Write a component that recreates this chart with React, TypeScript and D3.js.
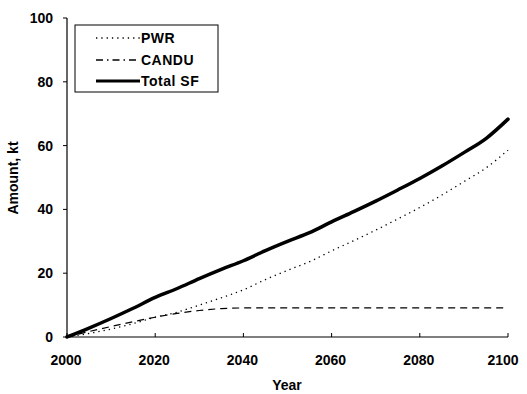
import React, { useRef, useEffect } from 'react';
import * as d3 from 'd3';

const years = [2000, 2005, 2010, 2015, 2020, 2025, 2030, 2035, 2040, 2045, 2050, 2055, 2060, 2065, 2070, 2075, 2080, 2085, 2090, 2095, 2100];
const pwr = [0, 1.1, 2.5, 4.2, 6.2, 7.8, 10.0, 12.3, 14.8, 18.0, 20.9, 23.6, 27.0, 30.2, 33.5, 37.0, 40.6, 44.5, 48.7, 53.0, 58.6];
const candu = [0, 1.7, 3.3, 4.8, 6.2, 7.4, 8.3, 8.9, 9.1, 9.1, 9.1, 9.1, 9.1, 9.1, 9.1, 9.1, 9.1, 9.1, 9.1, 9.1, 9.1];
const totalSF = [0, 2.8, 5.8, 9.0, 12.4, 15.2, 18.3, 21.2, 23.9, 27.1, 30.0, 32.7, 36.1, 39.3, 42.6, 46.1, 49.7, 53.6, 57.8, 62.2, 68.3];

const xTicks = [2000, 2020, 2040, 2060, 2080, 2100];
const yTicks = [0, 20, 40, 60, 80, 100];

const series = [
  { name: 'PWR', values: pwr, width: 1.3, dash: '1.3,4' },
  { name: 'CANDU', values: candu, width: 1.2, dash: '7,5' },
  { name: 'Total SF', values: totalSF, width: 3.5, dash: null },
];

const App = () => {
  const ref = useRef<SVGSVGElement>(null);

  useEffect(() => {
    const svg = d3.select(ref.current);
    svg.selectAll('*').remove();
    const font = "'Liberation Sans', Arial, sans-serif";
    const fs = 14;

    const x = d3.scaleLinear().domain([2000, 2100]).range([67, 508]);
    const y = d3.scaleLinear().domain([0, 100]).range([337, 18]);

    // axes lines
    svg.append('line').attr('x1', 67).attr('x2', 67).attr('y1', y(100)).attr('y2', y(0))
      .attr('stroke', '#000').attr('stroke-width', 1.2);
    svg.append('line').attr('x1', 67).attr('x2', x(2100)).attr('y1', y(0)).attr('y2', y(0))
      .attr('stroke', '#000').attr('stroke-width', 1.2);

    // y ticks
    yTicks.forEach((t) => {
      svg.append('line').attr('x1', 63).attr('x2', 67).attr('y1', y(t)).attr('y2', y(t))
        .attr('stroke', '#000').attr('stroke-width', 1);
      svg.append('text').attr('x', 53).attr('y', y(t)).attr('dy', '0.36em')
        .attr('text-anchor', 'end').attr('font-family', font).attr('font-weight', 'bold')
        .attr('font-size', fs).text(t);
    });

    // x ticks
    xTicks.forEach((t) => {
      svg.append('line').attr('x1', x(t)).attr('x2', x(t)).attr('y1', y(0)).attr('y2', y(0) - 4)
        .attr('stroke', '#000').attr('stroke-width', 1);
      svg.append('text').attr('x', t === 2100 ? x(t) - 5 : x(t) - 1).attr('y', 365)
        .attr('text-anchor', 'middle').attr('font-family', font).attr('font-weight', 'bold')
        .attr('font-size', fs).text(t);
    });

    // axis titles
    svg.append('text').attr('x', 287).attr('y', 390).attr('text-anchor', 'middle')
      .attr('font-family', font).attr('font-weight', 'bold').attr('font-size', fs).text('Year');
    svg.append('text').attr('transform', 'translate(18,178) rotate(-90)').attr('text-anchor', 'middle')
      .attr('font-family', font).attr('font-weight', 'bold').attr('font-size', fs).text('Amount, kt');

    // lines
    series.forEach((s) => {
      const line = d3.line<number>().x((_, i) => x(years[i])).y((d) => y(d)).curve(d3.curveMonotoneX);
      svg.append('path').datum(s.values).attr('d', line).attr('fill', 'none')
        .attr('stroke', '#000').attr('stroke-width', s.width)
        .attr('stroke-dasharray', s.dash).attr('stroke-linecap', s.dash ? 'butt' : 'round');
    });

    // legend
    const lg = svg.append('g');
    lg.append('rect').attr('x', 75).attr('y', 25).attr('width', 143).attr('height', 67)
      .attr('fill', '#fff').attr('stroke', '#000').attr('stroke-width', 1);
    const rows = [38, 60, 81];
    series.forEach((s, i) => {
      lg.append('line').attr('x1', 96).attr('x2', 140).attr('y1', rows[i]).attr('y2', rows[i])
        .attr('stroke', '#000').attr('stroke-width', s.width === 3.5 ? 3 : s.width + 0.3)
        .attr('stroke-dasharray', s.name === 'CANDU' ? '7,4,1.5,4' : s.dash);
      lg.append('text').attr('x', 141).attr('y', rows[i]).attr('dy', '0.36em')
        .attr('font-family', font).attr('font-weight', 'bold').attr('font-size', fs)
        .attr('letter-spacing', 0.5).text(s.name);
    });
  }, []);

  return (
    <svg ref={ref} width={527} height={394}
      style={{ position: 'absolute', left: 0, top: 0, background: '#fff' }} />
  );
};

export default App;
